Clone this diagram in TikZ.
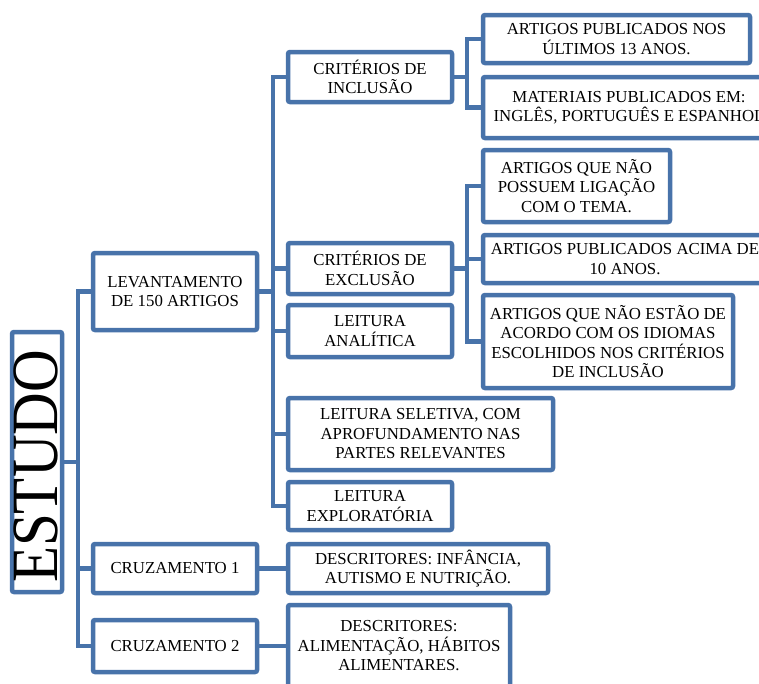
\documentclass[tikz,border=0pt]{standalone}
\usepackage{fontspec}
\setmainfont{Liberation Serif}
\definecolor{sablue}{RGB}{72,115,170}
\newcommand\fs{\fontsize{16.8}{19.5}\selectfont}
\tikzset{
  box/.style={draw=sablue, line width=4.5pt, rounded corners=2pt, fill=white,
    align=center, inner sep=0pt, font=\fs},
  conn/.style={draw=sablue, line width=4.5pt},
}
\begin{document}
\begin{tikzpicture}[x=1pt,y=-1pt]
\clip (0,0) rectangle (759,683);
\fill[white] (0,0) rectangle (759,683);
% trunk positions
\coordinate (t1) at (78,0);
\coordinate (t2) at (273,0);
\coordinate (t3) at (467,0);
% boxes
\node[box, minimum width=50pt, minimum height=260pt] (estudo) at (37,462) {};
\node[rotate=90, anchor=base, inner sep=0pt, font=\fontsize{59}{59}\selectfont] (estudotxt) at (57,466.5) {\scalebox{1}[1.12]{ESTUDO}};
\node[box, minimum width=164pt, minimum height=77pt] (lev) at (175,291.5) {LEVANTAMENTO\\DE 150 ARTIGOS};
\node[box, minimum width=164pt, minimum height=49pt] (cr1) at (175,568.5) {CRUZAMENTO 1};
\node[box, minimum width=164pt, minimum height=52pt] (cr2) at (175,646) {CRUZAMENTO 2};
\node[box, minimum width=164pt, minimum height=50pt] (inc) at (370,77) {CRITÉRIOS DE\\INCLUSÃO};
\node[box, minimum width=164pt, minimum height=51pt] (exc) at (370,268.5) {CRITÉRIOS DE\\EXCLUSÃO};
\node[box, minimum width=164pt, minimum height=52pt] (ana) at (370,331) {LEITURA\\ANALÍTICA};
\node[box, minimum width=265pt, minimum height=72pt] (sel) at (420.5,434) {LEITURA SELETIVA, COM\\APROFUNDAMENTO NAS\\PARTES RELEVANTES};
\node[box, minimum width=164pt, minimum height=48pt] (exp) at (370,506) {LEITURA\\EXPLORATÓRIA};
\node[box, minimum width=260pt, minimum height=49pt] (d1) at (418,568.5) {DESCRITORES: INFÂNCIA,\\AUTISMO E NUTRIÇÃO.};
\node[box, minimum width=222pt, minimum height=82pt] (d2) at (399,646) {DESCRITORES:\\ALIMENTAÇÃO, HÁBITOS\\ALIMENTARES.};
\node[box, minimum width=267pt, minimum height=48pt] (i1) at (616.5,39) {ARTIGOS PUBLICADOS NOS\\ÚLTIMOS 13 ANOS.};
\node[box, minimum width=292pt, minimum height=61pt] (i2) at (629,107.5) {MATERIAIS PUBLICADOS EM:\\INGLÊS, PORTUGUÊS E ESPANHOL};
\node[box, minimum width=187pt, minimum height=72pt] (a1) at (576.5,186) {ARTIGOS QUE NÃO\\POSSUEM LIGAÇÃO\\COM O TEMA.};
\node[box, minimum width=284pt, minimum height=48pt] (a2) at (625,259) {ARTIGOS PUBLICADOS ACIMA DE\\10 ANOS.};
\node[box, minimum width=250pt, minimum height=93pt] (a3) at (608,341.5) {ARTIGOS QUE NÃO ESTÃO DE\\ACORDO COM OS IDIOMAS\\ESCOLHIDOS NOS CRITÉRIOS\\DE INCLUSÃO};
% connectors
\draw[conn] (estudo.east) -- (t1 |- estudo.east);
\draw[conn] (lev.west) -| (t1 |- cr2.west) -- (cr2.west);
\draw[conn] (cr1.west) -- (t1 |- cr1.west);
\draw[conn] (lev.east) -- (t2 |- lev.east);
\draw[conn] (inc.west) -| (t2 |- exp.west) -- (exp.west);
\draw[conn] (exc.west) -- (t2 |- exc.west);
\draw[conn] (ana.west) -- (t2 |- ana.west);
\draw[conn] (sel.west) -- (t2 |- sel.west);
\draw[conn] (inc.east) -- (t3 |- inc.east);
\draw[conn] (i1.west) -| (t3 |- i2.west) -- (i2.west);
\draw[conn] (exc.east) -- (t3 |- exc.east);
\draw[conn] (a1.west) -| (t3 |- a3.west) -- (a3.west);
\draw[conn] (a2.west) -- (t3 |- a2.west);
\draw[conn] (cr1.east) -- (d1.west);
\draw[conn] (cr2.east) -- (d2.west);
\end{tikzpicture}
\end{document}
